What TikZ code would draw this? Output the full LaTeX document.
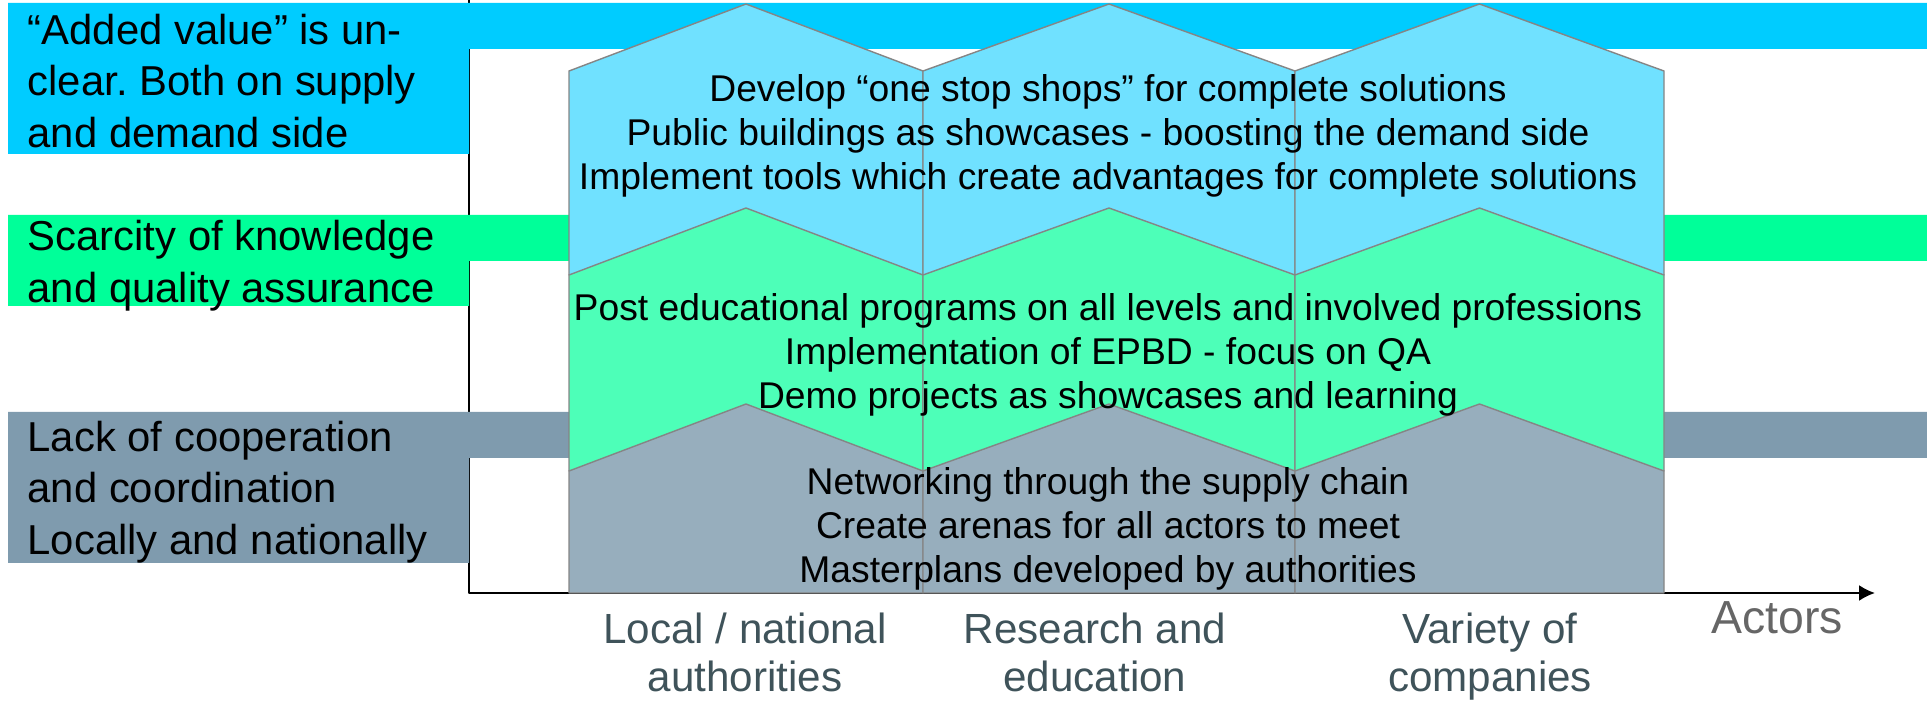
\documentclass[tikz,border=0pt]{standalone}
\usepackage{fontspec}
\setmainfont{Liberation Sans}
\usetikzlibrary{arrows.meta}
\definecolor{bandblue}{HTML}{00CCFF}
\definecolor{hexblue}{HTML}{70E1FF}
\definecolor{bandgreen}{HTML}{00FF99}
\definecolor{hexgreen}{HTML}{4DFFB8}
\definecolor{bandgrey}{HTML}{7F9BAE}
\definecolor{hexgrey}{HTML}{97AEBD}
\definecolor{hexline}{HTML}{858585}
\definecolor{actorcol}{HTML}{3F535A}
\definecolor{axiscol}{HTML}{666666}
\frenchspacing
\begin{document}
\begin{tikzpicture}[line join=round,>={Latex[length=4.5pt,width=4.5pt]},
	problem/.style={anchor=west,align=left,inner sep=0pt,font=\fontsize{11.9}{14.7}\selectfont},
	measure/.style={align=center,inner sep=0pt,font=\fontsize{10.6}{12.5}\selectfont},
	actor/.style={anchor=north,align=center,inner sep=0pt,text=actorcol,font=\fontsize{12}{13.6}\selectfont},
	hexagon/.style={draw=hexline,line width=0.4pt}]
				\useasboundingbox (0,0) rectangle (19.27,7.04);
				% axes
				\coordinate (O) at (4.69,1.11);
				\draw[->,line width=0.6pt] (4.69,7.04) -- (O) -- (18.75,1.11);
				% problem bands
				\fill[bandblue] (0.08,7.01) rectangle (19.27,6.55) (0.08,7.01) rectangle (4.69,5.50);
				\fill[bandgreen] (0.08,4.89) rectangle (19.27,4.43) (0.08,4.89) rectangle (4.69,3.98);
				\fill[bandgrey] (0.08,2.92) rectangle (19.27,2.46) (0.08,2.92) rectangle (4.69,1.41);
				% measures, one column per actor
				\foreach \l/\r in {5.69/9.23,9.23/12.95,12.95/16.64}
					\filldraw[hexagon,fill=hexblue] (\l,4.29)--(\l,6.33)--({(\l+\r)/2},7.00)--(\r,6.33)--(\r,4.29)--cycle;
				\foreach \l/\r in {5.69/9.23,9.23/12.95,12.95/16.64}
					\filldraw[hexagon,fill=hexgreen] (\l,2.33)--(\l,4.29)--({(\l+\r)/2},4.96)--(\r,4.29)--(\r,2.33)--cycle;
				\foreach \l/\r in {5.69/9.23,9.23/12.95,12.95/16.64}
					\filldraw[hexagon,fill=hexgrey] (\l,1.11)--(\l,2.33)--({(\l+\r)/2},3.00)--(\r,2.33)--(\r,1.11)--cycle;
				\node[problem] (pvalue) at (0.27,6.23) {“Added value” is un-\\clear. Both on supply\\and demand side};
				\node[problem] (pknow) at (0.27,4.38) {Scarcity of knowledge\\and quality assurance};
				\node[problem] (pcoop) at (0.27,2.12) {Lack of cooperation\\and coordination\\Locally and nationally};
				\node[measure] (mvalue) at (11.08,5.685) {Develop “one stop shops” for complete solutions\\Public buildings as showcases - boosting the demand side\\Implement tools which create advantages for complete solutions};
				\node[measure] (mknow) at (11.08,3.495) {Post educational programs on all levels and involved professions\\Implementation of EPBD - focus on QA\\Demo projects as showcases and learning};
				\node[measure] (mcoop) at (11.08,1.755) {Networking through the supply chain\\Create arenas for all actors to meet\\Masterplans developed by authorities};
				\node[actor] (alocal) at (7.45,0.92) {Local / national\\authorities};
				\node[actor] (aresearch) at (10.95,0.92) {Research and\\education};
				\node[actor] (avariety) at (14.90,0.92) {Variety of\\companies};
				\node[anchor=base,inner sep=0pt,text=axiscol,font=\fontsize{13.2}{15}\selectfont] (actors) at (17.77,0.70) {Actors};
			\end{tikzpicture}
\end{document}
